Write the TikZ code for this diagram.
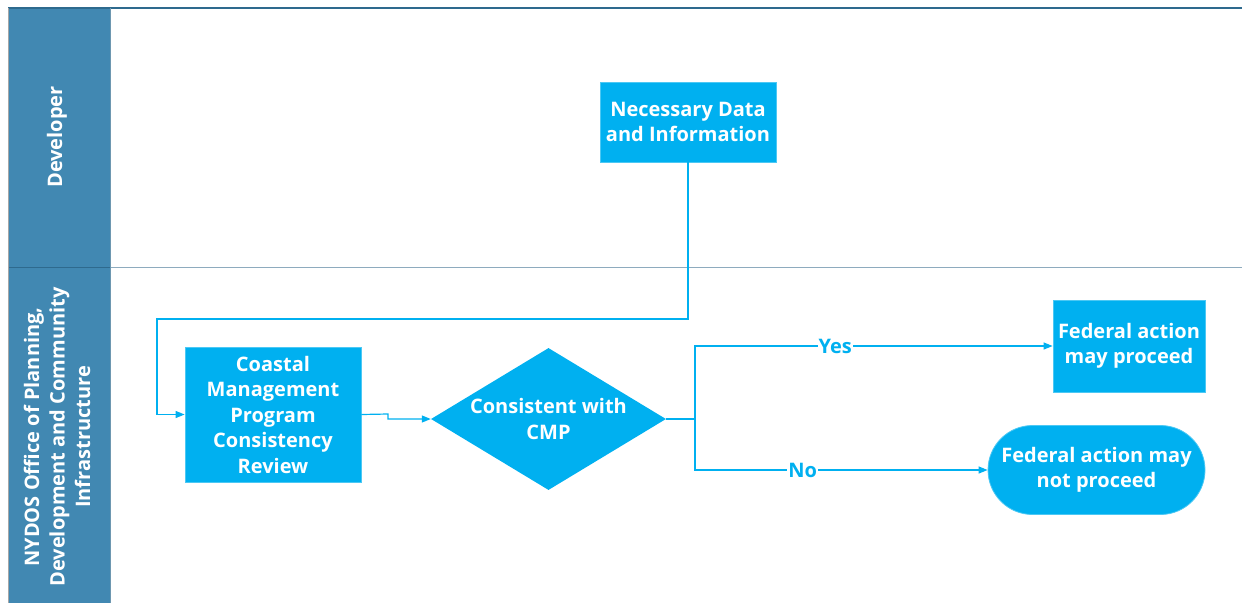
\documentclass[tikz,border=0pt]{standalone}
\usepackage{fontspec}
\setmainfont{Open Sans}
\usetikzlibrary{arrows.meta,shapes.geometric,shapes.misc}
\definecolor{lanefill}{HTML}{4188B2}
\definecolor{laneedge}{HTML}{2E6A8E}
\definecolor{lanerule}{HTML}{8EABBE}
\definecolor{boxblue}{HTML}{00B0F0}
\tikzset{
  bigfont/.style={font=\fontsize{20}{25.5}\selectfont\bfseries},
  procbox/.style={draw=boxblue!70!white, line width=0.8pt, fill=boxblue, text=white,
    bigfont, align=center, inner sep=0pt},
  decision/.style={diamond, aspect=1.65, fill=boxblue, text=white,
    bigfont, align=center, inner sep=0pt},
  terminal/.style={rounded rectangle, fill=boxblue, draw=boxblue!70!white, line width=0.8pt,
    text=white, bigfont, align=center, inner sep=0pt},
  flow/.style={draw=boxblue, line width=1.2pt, -{Triangle[length=9pt,width=7pt]}},
  lanetext/.style={text=white, rotate=90, bigfont, align=center},
  branchlabel/.style={fill=white, text=boxblue, inner sep=1pt, bigfont}
}
\begin{document}
\begin{tikzpicture}[x=1pt,y=-1pt]
  \useasboundingbox (0,0) rectangle (1242,603);
  % swimlane headers
  \fill[lanefill] (8,8) rectangle (110,603);
  \draw[lanerule, line width=1pt] (110,267) -- (1242,267);
  \draw[laneedge, line width=1pt] (8,267) -- (110,267);
  \draw[laneedge, line width=1.2pt] (8,8) -- (1242,8);
  \draw[laneedge!70!white, line width=0.8pt] (110,8) -- (110,603);
  \draw[gray!70, line width=0.8pt] (8,8) -- (8,603);
  \node[lanetext] (lanedev) at (57,137) {Developer};
  \node[lanetext] (lanedos) at (57,437) {NYDOS Office of Planning,\\Development and Community\\Infrastructure};

  % process nodes
  \node[procbox, minimum width=176pt, minimum height=80pt] (data) at (688,122)
    {Necessary Data\\and Information};
  \node[procbox, minimum width=176pt, minimum height=135pt] (review) at (273,414.5)
    {Coastal\\Management\\Program\\Consistency\\Review};
  \node[decision, minimum width=235pt, minimum height=142pt] (cmp) at (548.5,419)
    {Consistent with\\CMP};
  \node[procbox, minimum width=152pt, minimum height=92pt] (yes) at (1129,346)
    {Federal action\\may proceed};
  \node[terminal, minimum width=217pt, minimum height=89pt] (no) at (1096.5,470)
    {Federal action may\\not proceed};

  % junction points
  \coordinate (c1) at (688,319);
  \coordinate (c2) at (157,319);
  \coordinate (j1) at (388,414);
  \coordinate (sp) at (695,419);

  % connectors
  \draw[flow] (data.south) -- (c1) -- (c2) |- (review.west);
  \draw[flow] (review.east) -- (j1) |- (cmp.west);
  \draw[draw=boxblue, line width=1.2pt] (cmp.east) -- (sp);
  \draw[flow] (sp) |- (yes.west) node[branchlabel, pos=0.696] (lyes) {Yes};
  \draw[flow] (sp) |- (no.west) node[branchlabel, pos=0.684] (lno) {No};
\end{tikzpicture}
\end{document}
